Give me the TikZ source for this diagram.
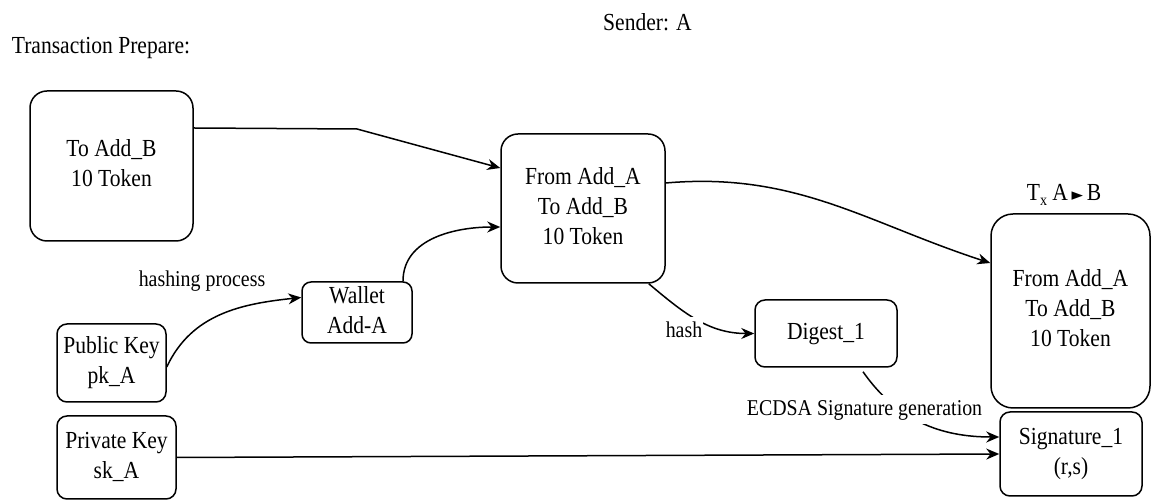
\documentclass[tikz,border=0pt]{standalone}
\usepackage{fontspec}
\usepackage{graphicx}
\newfontfamily\tnr{Liberation Serif}
\newfontfamily\symfont{DejaVu Sans}
\usetikzlibrary{arrows.meta}
\newcommand\mysizemain{\tnr\fontsize{24.5}{30}\selectfont}
\newcommand\mysizelab{\tnr\fontsize{22.6}{27}\selectfont}
\newcommand\sqz[1]{\scalebox{0.88}[1]{\begin{tabular}{@{}c@{}}#1\end{tabular}}}
\begin{document}
\begin{tikzpicture}[x=1pt,y=1pt,
  box/.style={draw,line width=1.5pt,rounded corners=#1,align=center,inner sep=0pt,font=\mysizemain},
  box/.default=10pt,
  plain/.style={inner sep=1pt,align=center,font=\mysizemain},
  lab/.style={inner sep=1pt,fill=white,font=\mysizelab},
  conn/.style={line width=1.5pt,-{Stealth[length=13pt,width=11pt]}}]
\useasboundingbox (0,0) rectangle (1152,500);
% titles
\node[plain] (title) at (101,452) {\sqz{Transaction Prepare:}};
\node[plain] (sender) at (647.5,475) {\sqz{Sender: A}};
\node[plain] (txlab) at (1064,305) {\sqz{T\raisebox{-5pt}{\fontsize{16}{16}\selectfont x} A\,{\symfont\fontsize{17}{17}\selectfont ►}\,B}};
% boxes
\node[box=17pt,minimum width=163pt,minimum height=150pt] (toB) at (111.5,334) {\sqz{To Add\_B\\10 Token}};
\node[box=17pt,minimum width=164pt,minimum height=149pt] (from) at (583,291.5) {\sqz{From Add\_A\\To Add\_B\\10 Token}};
\node[box=22pt,minimum width=159pt,minimum height=194pt] (tx) at (1070.5,189) {\sqz{From Add\_A\\To Add\_B\\10 Token}};
\node[box=9pt,minimum width=110pt,minimum height=61pt] (wallet) at (357,187.5) {\sqz{Wallet\\Add-A}};
\node[box,minimum width=109pt,minimum height=78pt] (pk) at (111.5,137) {\sqz{Public Key\\pk\_A}};
\node[box,minimum width=119pt,minimum height=83pt] (sk) at (116.5,42.5) {\sqz{Private Key\\sk\_A}};
\node[box,minimum width=142pt,minimum height=67pt] (digest) at (826,166.5) {\sqz{Digest\_1}};
\node[box,minimum width=142pt,minimum height=84pt] (sig) at (1071,46) {\sqz{Signature\_1\\(r,s)}};
% connectors
\coordinate (bend1) at (357,371);
\draw[conn] ([yshift=38pt]toB.east) -- (bend1) -- ([yshift=40.5pt]from.west);
\draw[conn] ([xshift=46pt]wallet.north) to[out=90,in=180] ([yshift=-18.5pt]from.west);
\draw[conn] ([yshift=-4pt]pk.east) to[out=65,in=186] ([yshift=15pt]wallet.west);
\draw[conn] ([yshift=25.5pt]from.east) to[out=5,in=162] ([yshift=48pt]tx.west);
\draw[conn] ([xshift=-17pt]from.south east) to[out=-40,in=180] (digest.west);
\draw[conn] ([xshift=37pt,yshift=-4pt]digest.south) to[out=-55,in=180] ([yshift=17pt]sig.west);
\draw[conn] (sk.east) -- (sig.west);
% edge labels
\node[lab] (hp) at (202,219) {\sqz{hashing process}};
\node[lab] (hl) at (684,168) {\sqz{hash}};
\node[lab] (ecdsa) at (864.5,90) {\sqz{ECDSA Signature generation}};
\end{tikzpicture}
\end{document}
